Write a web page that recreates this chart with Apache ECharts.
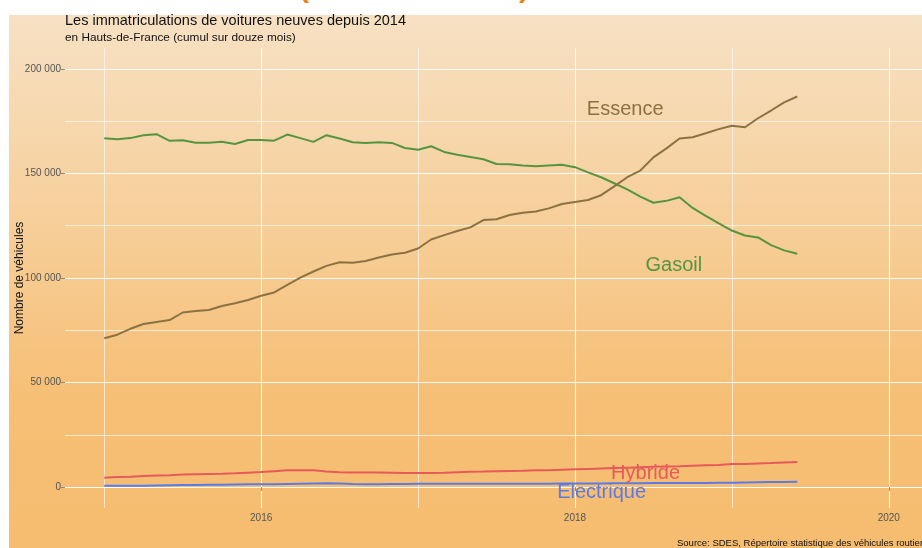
<!DOCTYPE html>
<html>
<head>
<meta charset="utf-8">
<title>Immatriculations Hauts-de-France</title>
<script src="https://cdn.jsdelivr.net/npm/echarts@6/dist/echarts.min.js"></script>
<style>
  html, body { margin: 0; padding: 0; background: #fff; }
  #chart { width: 922px; height: 548px; }
</style>
</head>
<body>
<div id="chart"></div>
<script>
// cumul sur douze mois, mensuel de janvier 2015 a juin 2019
const startYear = 2015;

const essence = [
  71200, 72900, 75700, 78000, 79000, 79900, 83500, 84200, 84700, 86600, 87900, 89500,
  91500, 93100, 96700, 100200, 103100, 105800, 107500, 107300, 108100, 109800, 111200, 112100,
  114100, 118400, 120500, 122500, 124200, 127700, 128100, 130100, 131200, 131800, 133300, 135400,
  136400, 137300, 139600, 143800, 148200, 151400, 157700, 162000, 166700, 167300, 169200, 171200,
  172800, 172100, 176400, 180100, 184000, 186800
];
const gasoil = [
  166800, 166400, 166900, 168300, 168800, 165600, 165900, 164700, 164700, 165200, 164100, 166000,
  166000, 165700, 168600, 166900, 165100, 168300, 166700, 164900, 164600, 164900, 164600, 162200,
  161300, 163000, 160300, 158900, 157900, 156800, 154500, 154400, 153800, 153400, 153800, 154200,
  153000, 150500, 148200, 145300, 142400, 138900, 136000, 136900, 138600, 133500, 129700, 126100,
  122700, 120300, 119400, 115700, 113200, 111600
];
const hybride = [
  4500, 4800, 5000, 5300, 5500, 5700, 6000, 6200, 6300, 6400, 6600, 6900,
  7200, 7600, 8000, 8100, 8000, 7500, 7100, 7000, 7000, 7000, 6900, 6700,
  6700, 6700, 6800, 7100, 7300, 7400, 7600, 7700, 7800, 8000, 8100, 8300,
  8500, 8700, 8900, 9100, 9300, 9500, 9700, 9900, 10000, 10200, 10400, 10600,
  11000, 11100, 11300, 11500, 11800, 12000
];
const electrique = [
  600, 600, 700, 700, 800, 900, 1000, 1000, 1100, 1100, 1200, 1300,
  1400, 1400, 1500, 1600, 1700, 1800, 1700, 1500, 1400, 1400, 1500, 1500,
  1600, 1600, 1600, 1600, 1600, 1600, 1600, 1600, 1600, 1600, 1600, 1700,
  1700, 1700, 1700, 1800, 1800, 1800, 1900, 1900, 1900, 2000, 2000, 2100,
  2100, 2200, 2300, 2400, 2400, 2500
];

const xTicks = [2016, 2018, 2020];
const yTicks = [0, 50000, 100000, 150000, 200000];

// position des etiquettes de serie [annee, valeur]
const labelEssence = [2018.32, 180800];
const labelGasoil = [2018.63, 106200];
const labelHybride = [2018.45, 6700];
const labelElectrique = [2018.17, -2400];

const toPairs = (arr) => arr.map((v, i) => [startYear + i / 12, v]);
const fmtNum = (v) => String(v).replace(/\B(?=(\d{3})+(?!\d))/g, ' ');

const myChart = echarts.init(document.getElementById('chart'));

const makeSeries = (name, values, color, coord) => ({
  name: name,
  type: 'line',
  data: toPairs(values),
  showSymbol: false,
  silent: true,
  lineStyle: {color: color, width: 2},
  itemStyle: {color: color},
  markPoint: {
    silent: true,
    symbol: 'circle',
    symbolSize: 0,
    data: [{coord: coord, value: name}],
    label: {
      show: true,
      position: 'inside',
      formatter: name,
      color: color,
      fontSize: 20,
      fontFamily: 'Liberation Sans, Arial, sans-serif',
    },
  },
});

const option = {
  animation: false,
  backgroundColor: '#fff',
  textStyle: {fontFamily: 'Liberation Sans, Arial, sans-serif'},
  title: {
    text: 'Les immatriculations de voitures neuves depuis 2014',
    subtext: 'en Hauts-de-France (cumul sur douze mois)',
    left: 65,
    top: 13,
    padding: 0,
    itemGap: 4,
    textStyle: {fontSize: 14.5, fontWeight: 'normal', color: '#111'},
    subtextStyle: {fontSize: 11.8, color: '#111'},
  },
  graphic: [
    {
      type: 'rect',
      z: -10,
      silent: true,
      shape: {x: 9, y: 15, width: 913, height: 533},
      style: {
        fill: new echarts.graphic.LinearGradient(0, 0, 0, 1, [
          {offset: 0, color: '#F7E1C4'},
          {offset: 0.72, color: '#F6BF75'},
          {offset: 1, color: '#F6BD70'},
        ]),
      },
    },
    {
      type: 'text', left: 299, top: -26, silent: true,
      style: {text: '(', fontSize: 30, fill: '#E8841A', fontWeight: 'bold'},
    },
    {
      type: 'text', left: 519, top: -26, silent: true,
      style: {text: ')', fontSize: 30, fill: '#E8841A', fontWeight: 'bold'},
    },
    {
      type: 'text', left: 677, top: 538, silent: true,
      style: {text: 'Source: SDES, Répertoire statistique des véhicules routiers', fontSize: 9.5, fill: '#111'},
    },
    {
      // titre de l'axe vertical
      type: 'text', x: 20, y: 278, rotation: Math.PI / 2, silent: true,
      style: {
        text: 'Nombre de véhicules', fontSize: 12, fill: '#111',
        align: 'center', verticalAlign: 'middle',
      },
    },
  ],
  grid: {left: 65, right: -6, top: 48, bottom: 40, outerBoundsMode: 'none', containLabel: false},
  xAxis: {
    type: 'value',
    min: 2014.75,
    max: 2020.25,
    minInterval: 2,
    maxInterval: 2,
    axisLine: {show: false},
    axisTick: {show: true, length: 4, customValues: xTicks, lineStyle: {color: '#8c8c8c'}},
    axisLabel: {customValues: xTicks, color: '#555', fontSize: 10, margin: 5, formatter: (v) => String(v)},
    splitLine: {show: true, lineStyle: {color: 'rgba(255,255,255,0.95)', width: 1.1}},
    minorTick: {show: false, splitNumber: 2},
    minorSplitLine: {show: true, lineStyle: {color: 'rgba(255,255,255,0.8)', width: 0.8}},
  },
  yAxis: {
    type: 'value',
    min: -10000,
    max: 210000,
    minInterval: 50000,
    maxInterval: 50000,
    axisLine: {show: false},
    axisTick: {show: true, length: 4, customValues: yTicks, lineStyle: {color: '#8c8c8c'}},
    axisLabel: {customValues: yTicks, color: '#555', fontSize: 10, margin: 4, formatter: fmtNum},
    splitLine: {show: true, lineStyle: {color: 'rgba(255,255,255,0.95)', width: 1.1}},
    minorTick: {show: false, splitNumber: 2},
    minorSplitLine: {show: true, lineStyle: {color: 'rgba(255,255,255,0.8)', width: 0.8}},
  },
  series: [
    makeSeries('Electrique', electrique, '#5A7BE6', labelElectrique),
    makeSeries('Hybride', hybride, '#E65A5A', labelHybride),
    makeSeries('Gasoil', gasoil, '#569540', labelGasoil),
    makeSeries('Essence', essence, '#8C7243', labelEssence),
  ],
};
myChart.setOption(option);
window.addEventListener('resize', myChart.resize);
</script>
</body>
</html>
